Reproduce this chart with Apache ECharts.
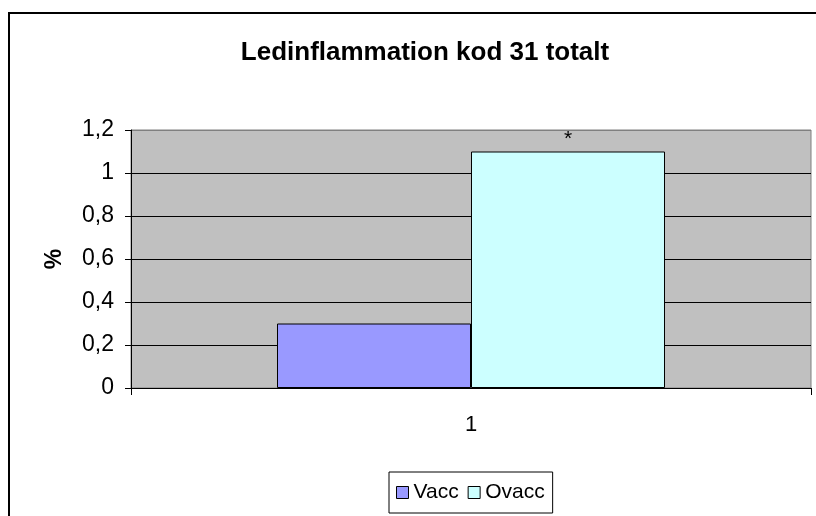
<!DOCTYPE html>
<html>
<head>
<meta charset="utf-8">
<script src="https://cdn.jsdelivr.net/npm/echarts@6/dist/echarts.min.js"></script>
<style>
  html, body { margin: 0; padding: 0; background: #fff; }
  #chart { width: 816px; height: 516px; }
</style>
</head>
<body>
<div id="chart"></div>
<script>
// data
const categories = ['1']
const seriesNames = ['Vacc', 'Ovacc']
const vaccValues = [0.3]
const ovaccValues = [1.1]
const ovaccMarks = ['*']   // significance marker above the bar
const yTicks = { min: 0, max: 1.2, interval: 0.2 }

const font = 'Arial, "Liberation Sans", sans-serif'

let chart = echarts.init(document.getElementById('chart'))

chart.setOption({
  animation: false,
  textStyle: { fontFamily: font },
  title: {
    text: 'Ledinflammation kod 31 totalt',
    left: 420,
    top: 35,
    textAlign: 'center',
    textStyle: { fontSize: 26, fontWeight: 'bold', color: '#000', fontFamily: font }
  },
  graphic: [{
    // outer chart border, cut by the window on the right and bottom
    type: 'rect',
    shape: { x: 9, y: 13, width: 900, height: 600 },
    style: { fill: 'none', stroke: '#000', lineWidth: 2 },
    silent: true
  }],
  grid: {
    left: 131, top: 130, right: 5, bottom: 128,
    show: true,
    backgroundColor: '#C0C0C0',
    borderColor: '#808080',
    borderWidth: 1
  },
  legend: {
    data: seriesNames,
    left: 389,
    top: 472,
    orient: 'horizontal',
    icon: 'rect',
    itemWidth: 12,
    itemHeight: 12,
    itemGap: 9,
    itemTextGap: 6,
    padding: [10, 8, 10, 7],
    borderColor: '#000',
    borderWidth: 1,
    itemStyle: { borderColor: '#000', borderWidth: 1 },
    textStyle: { fontSize: 21, color: '#000', fontFamily: font }
  },
  xAxis: {
    type: 'category',
    data: categories,
    axisLine: { lineStyle: { color: '#000', width: 1 } },
    axisTick: { show: true, alignWithLabel: false, length: 7, lineStyle: { color: '#000' } },
    axisLabel: { fontSize: 22, color: '#000', margin: 26, fontFamily: font },
    splitLine: { show: false }
  },
  yAxis: {
    type: 'value',
    min: yTicks.min,
    max: yTicks.max,
    interval: yTicks.interval,
    name: '%',
    nameLocation: 'middle',
    nameRotate: 90,
    nameGap: 65,
    nameTextStyle: { fontSize: 23, fontWeight: 'bold', color: '#000', fontFamily: font },
    axisLine: { show: true, lineStyle: { color: '#000', width: 1 } },
    axisTick: { show: true, length: 6, lineStyle: { color: '#000' } },
    axisLabel: {
      fontSize: 23,
      color: '#000',
      margin: 17,
      fontFamily: font,
      formatter: v => String(+v.toFixed(1)).replace('.', ',')
    },
    splitLine: {
      show: true,
      lineStyle: { color: ['#000', '#000', '#000', '#000', '#000', '#000', '#808080'], width: 1 }
    }
  },
  series: [
    {
      name: seriesNames[0],
      type: 'bar',
      data: vaccValues,
      barWidth: 194,
      barGap: '0%',
      itemStyle: { color: '#9999FF', borderColor: '#000', borderWidth: 1 }
    },
    {
      name: seriesNames[1],
      type: 'bar',
      data: ovaccValues,
      barWidth: 194,
      barGap: '0%',
      itemStyle: { color: '#CCFFFF', borderColor: '#000', borderWidth: 1 },
      label: {
        show: true,
        position: 'top',
        distance: 2,
        fontSize: 21,
        color: '#000',
        fontFamily: font,
        formatter: p => ovaccMarks[p.dataIndex]
      }
    }
  ]
})
</script>
</body>
</html>
